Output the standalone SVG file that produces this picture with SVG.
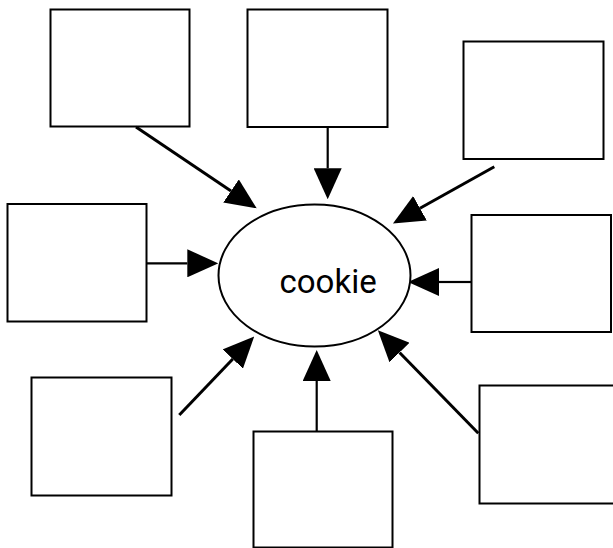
<svg xmlns="http://www.w3.org/2000/svg" width="613" height="548" viewBox="0 0 613 548">
<style>
.box{fill:#fff;stroke:#000;stroke-width:2}
.ell{fill:#fff;stroke:#000;stroke-width:2}
.edge{fill:none;stroke:#000;stroke-width:2.2}
.diag{stroke-width:3}
.lbl{font-family:Roboto,"Liberation Sans",sans-serif;font-size:33px;fill:#000}
</style>
<defs>
<marker id="arr" viewBox="0 0 31 28" refX="0" refY="14" markerWidth="31" markerHeight="28" markerUnits="userSpaceOnUse" orient="auto">
<path d="M0,0 L31,14 L0,28 z" fill="#000"/>
</marker>
</defs>
<rect width="613" height="548" fill="#fff"/>
<g id="n1"><rect class="box" x="50.5" y="9.5" width="139" height="117"/></g>
<g id="n2"><rect class="box" x="247.5" y="9.5" width="140" height="117.5"/></g>
<g id="n3"><rect class="box" x="463.5" y="41.5" width="140" height="117.5"/></g>
<g id="n4"><rect class="box" x="7.5" y="204" width="139" height="117.5"/></g>
<g id="n5"><rect class="box" x="471.5" y="215" width="139.5" height="117"/></g>
<g id="n6"><rect class="box" x="31.5" y="377.5" width="140" height="118"/></g>
<g id="n7"><rect class="box" x="253.5" y="431.5" width="139" height="116"/></g>
<g id="n8"><rect class="box" x="479.5" y="385.5" width="140" height="118"/></g>
<g id="connectors">
<line class="edge diag" x1="136" y1="127" x2="231" y2="191" marker-end="url(#arr)"/>
<line class="edge" x1="327.7" y1="127" x2="327.7" y2="168.3" marker-end="url(#arr)"/>
<line class="edge diag" x1="494.3" y1="166.7" x2="420" y2="208.3" marker-end="url(#arr)"/>
<line class="edge" x1="146.7" y1="263.3" x2="187.3" y2="263.3" marker-end="url(#arr)"/>
<line class="edge" x1="471" y1="282" x2="439" y2="282" marker-end="url(#arr)"/>
<line class="edge diag" x1="179.3" y1="415" x2="232.8" y2="359" marker-end="url(#arr)"/>
<line class="edge" x1="316.7" y1="431.5" x2="316.7" y2="381" marker-end="url(#arr)"/>
<line class="edge diag" x1="478.3" y1="433.3" x2="399.5" y2="352.5" marker-end="url(#arr)"/>
</g>
<g id="cookie">
<ellipse class="ell" cx="314.5" cy="275.5" rx="96" ry="71"/>
<text class="lbl" x="279.5" y="293">cookie</text>
</g>
</svg>
